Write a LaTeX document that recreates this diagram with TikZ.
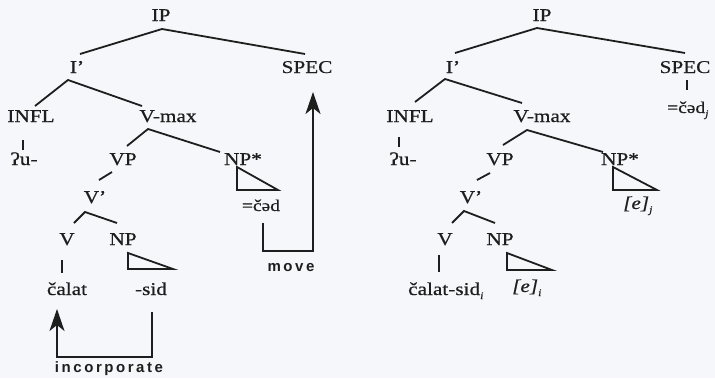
\documentclass[tikz,border=0pt]{standalone}
\usepackage{fontspec}
\setmainfont[FakeStretch=1.18,FakeBold=0.6]{Liberation Serif}
\newfontfamily\lblfont[LetterSpace=17]{Liberation Sans}
\usetikzlibrary{arrows.meta}
\definecolor{ink}{HTML}{1E1E1E}
\definecolor{bg}{HTML}{F6F7FA}
\newcommand{\sbs}[1]{\raisebox{-4pt}{\fontsize{10}{10}\selectfont\itshape #1}}
\begin{document}
\begin{tikzpicture}[x=1pt,y=-1pt,
  lab/.style={anchor=base, inner sep=0pt, text=ink, font=\fontsize{18}{18}\selectfont},
  small/.style={lab, font=\fontsize{16.5}{16.5}\selectfont},
  tree/.style={draw=ink, line width=1.8pt},
  tri/.style={draw=ink, line width=1.8pt, line join=miter},
  arr/.style={draw=ink, line width=1.8pt, -{Stealth[length=22pt,width=15pt,inset=6pt]}},
  act/.style={anchor=base, inner sep=0pt, text=ink, font=\lblfont\bfseries\fontsize{15}{15}\selectfont}]
\fill[bg] (0,0) rectangle (715,378);
\useasboundingbox (0,0) rectangle (715,378);

% ---------------- left tree ----------------
\node[lab] (IPL) at (161,21) {IP};
\node[lab] (IbL) at (77,73) {I'};
\node[lab] (SPL) at (307,73) {SPEC};
\node[lab] (INL) at (31,122) {INFL};
\node[lab] (VmL) at (168,122) {V-max};
\node[lab] (uL) at (24,165) {ʔu-};
\node[lab] (VPL) at (123,165) {VP};
\node[lab] (NSL) at (243,165) {NP*};
\node[small] (cadL) at (261,211) {=čəd};
\node[lab] (VbL) at (95,203) {V'};
\node[lab] (VL) at (67,245) {V};
\node[lab] (NPL) at (123,245) {NP};
\node[lab] (calat) at (67,295) {čalat};
\node[lab] (sid) at (151,295) {-sid};

\draw[tree] ([shift={(3,-19)}]IbL.base) -- ([shift={(1,8)}]IPL.base) -- ([shift={(-2,-19)}]SPL.base);
\draw[tree] ([shift={(4,-16)}]INL.base) -- ([shift={(-9,7)}]IbL.base) -- ([shift={(-26,-16)}]VmL.base);
\draw[tree] ([shift={(-8,18)}]INL.base) -- ([shift={(-1,-15)}]uL.base);
\draw[tree] ([shift={(4,-19)}]VPL.base) -- ([shift={(-20,7)}]VmL.base) -- ([shift={(-23,-13)}]NSL.base);
\draw[tree] ([shift={(-11,7)}]VPL.base) -- ([shift={(4,-23)}]VbL.base);
\draw[tree] ([shift={(7,-22)}]VL.base) -- ([shift={(-10,9)}]VbL.base) -- ([shift={(-6,-22)}]NPL.base);
\draw[tree] ([shift={(-5,15)}]VL.base) -- ([shift={(-5,-22)}]calat.base);
\draw[tri] ([shift={(5,8)}]NPL.base) -- ([shift={(5,24)}]NPL.base) -- ([shift={(50,24)}]NPL.base) -- cycle;
\draw[tri] ([shift={(-6,2)}]NSL.base) -- ([shift={(-6,25)}]NSL.base) -- ([shift={(35,25)}]NSL.base) -- cycle;

\draw[arr] ([shift={(2,12)}]cadL.base) -- ++(0,28) -| ([shift={(6,19)}]SPL.base);
\node[act] (move) at (291,271) {move};
\draw[arr] ([shift={(1,17)}]sid.base) -- ++(0,45) -| ([shift={(-10,14)}]calat.base);
\node[act] (inc) at (109,372) {incorporate};

% ---------------- right tree ----------------
\node[lab] (IPR) at (542,21) {IP};
\node[lab] (IbR) at (453,73) {I'};
\node[lab] (SPR) at (685,73) {SPEC};
\node[small, anchor=base west] (cadR) at (667,113) {=čəd\sbs{j}};
\node[lab] (INR) at (410,122) {INFL};
\node[lab] (VmR) at (542,122) {V-max};
\node[lab] (uR) at (403,165) {ʔu-};
\node[lab] (VPR) at (500,165) {VP};
\node[lab] (NSR) at (620,165) {NP*};
\node[lab, anchor=base west] (ejR) at (623,209) {\textit{[e]}\sbs{j}};
\node[lab] (VbR) at (471,203) {V'};
\node[lab] (VR) at (445,245) {V};
\node[lab] (NPR) at (500,245) {NP};
\node[lab, anchor=base west] (csR) at (408,295) {čalat-sid\sbs{i}};
\node[lab, anchor=base west] (eiR) at (512,292) {\textit{[e]}\sbs{i}};

\draw[tree] ([shift={(2,-20)}]IbR.base) -- ([shift={(-5,7)}]IPR.base) -- ([shift={(0,-20)}]SPR.base);
\draw[tree] ([shift={(2,7)}]SPR.base) -- ([shift={(20,-23)}]cadR.base west);
\draw[tree] ([shift={(5,-20)}]INR.base) -- ([shift={(-8,6)}]IbR.base) -- ([shift={(-20,-19)}]VmR.base);
\draw[tree] ([shift={(-11,15)}]INR.base) -- ([shift={(-4,-18)}]uR.base);
\draw[tree] ([shift={(3,-20)}]VPR.base) -- ([shift={(-15,8)}]VmR.base) -- ([shift={(-17,-13)}]NSR.base);
\draw[tree] ([shift={(-10,8)}]VPR.base) -- ([shift={(6,-23)}]VbR.base);
\draw[tree] ([shift={(7,-22)}]VR.base) -- ([shift={(-7,8)}]VbR.base) -- ([shift={(-5,-22)}]NPR.base);
\draw[tree] ([shift={(-6,10)}]VR.base) -- ([shift={(31,-23)}]csR.base west);
\draw[tri] ([shift={(7,8)}]NPR.base) -- ([shift={(7,25)}]NPR.base) -- ([shift={(52,25)}]NPR.base) -- cycle;
\draw[tri] ([shift={(-7,2)}]NSR.base) -- ([shift={(-7,25)}]NSR.base) -- ([shift={(37,25)}]NSR.base) -- cycle;
\end{tikzpicture}
\end{document}
